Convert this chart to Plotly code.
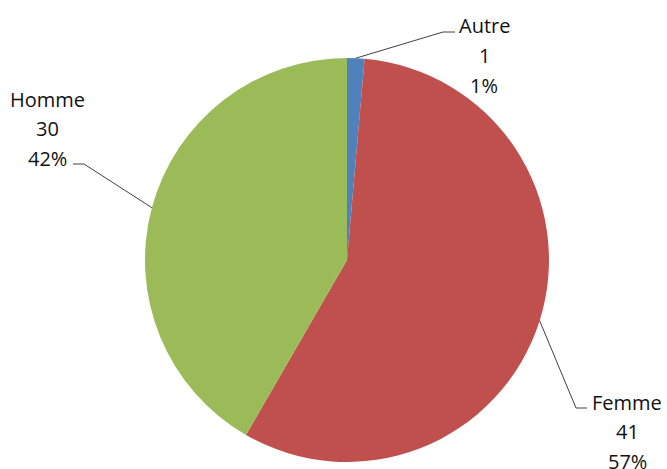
import math
import plotly.graph_objects as go

W, H = 667, 469

labels = ["Autre", "Femme", "Homme"]
values = [1, 41, 30]
colors = ["#4F81BD", "#C0504D", "#9BBB59"]

# pie placement in pixels (centre and radius)
CX, CY, R = 347, 260, 202

# label layout: text centre, elbow and end of the leader line (pixels)
label_pos = {
    "Autre": dict(text=(484, 26), elbow=(443, 32), end=(455, 32)),
    "Femme": dict(text=(627, 402), elbow=(576, 408), end=(587, 408)),
    "Homme": dict(text=(47, 99), elbow=(84, 164), end=(73, 164)),
}
LINE_GAP = 29.5


def px(x, y):
    return x / W, 1 - y / H


fig = go.Figure(go.Pie(
    labels=labels, values=values, sort=False, direction="clockwise", rotation=0,
    marker=dict(colors=colors, line=dict(width=0)),
    textinfo="none", hoverinfo="label+value+percent", showlegend=False,
    domain=dict(x=[(CX - R) / W, (CX + R) / W], y=[1 - (CY + R) / H, 1 - (CY - R) / H]),
))

total = sum(values)
annotations = []
shapes = []
cum = 0
for lab, v in zip(labels, values):
    mid = (cum + v / 2) / total * 2 * math.pi
    cum += v
    sx, sy = CX + R * math.sin(mid), CY - R * math.cos(mid)
    p = label_pos[lab]
    pts = [px(sx, sy), px(*p["elbow"]), px(*p["end"])]
    path = "M {} {} L {} {} L {} {}".format(*[c for pt in pts for c in pt])
    shapes.append(dict(type="path", xref="paper", yref="paper", path=path,
                       line=dict(color="#404040", width=1)))
    lines = [lab, str(v), "{}%".format(round(v / total * 100))]
    tx, ty = p["text"]
    for i, t in enumerate(lines):
        ax, ay = px(tx, ty + i * LINE_GAP)
        annotations.append(dict(x=ax, y=ay, xref="paper", yref="paper", text=t,
                                showarrow=False, xanchor="center", yanchor="middle",
                                font=dict(family="Open Sans", size=20, color="#111111")))

fig.update_layout(
    width=W, height=H, margin=dict(l=0, r=0, t=0, b=0),
    paper_bgcolor="white", plot_bgcolor="white",
    annotations=annotations, shapes=shapes,
)

# drop the default page margin so the figure sits at the window's top-left corner
fig.write_html("out.html", config={"displayModeBar": False},
               post_script="document.body.style.margin='0';")
